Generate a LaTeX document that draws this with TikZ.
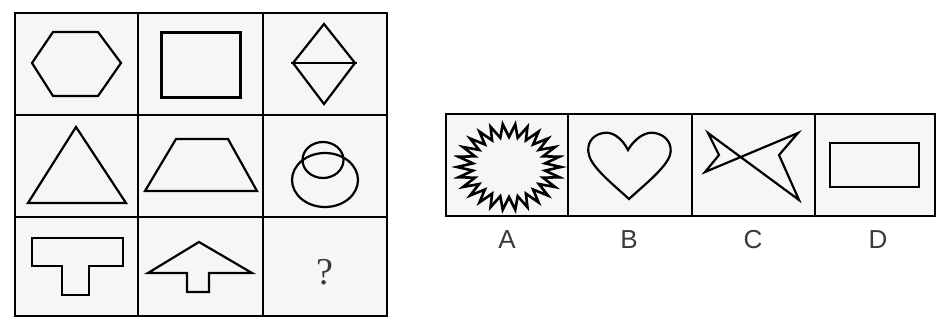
\documentclass[tikz,border=0pt]{standalone}
\usepackage{fontspec}
\newfontfamily\labfont{Liberation Sans}
\newfontfamily\qfont{Liberation Serif}
\definecolor{cellbg}{HTML}{F6F6F6}
\definecolor{labgray}{HTML}{3A3A3A}
\begin{document}
\begin{tikzpicture}[x=1pt,y=-1pt,
  gridline/.style={line width=2.8pt},
  shapeline/.style={line width=2.2pt, line join=miter},
  label/.style={font=\labfont\fontsize{26}{26}\selectfont, text=labgray, inner sep=0pt}]
\useasboundingbox (0,0) rectangle (941,324);
% left grid
\fill[cellbg] (15,13) rectangle (387,316);
\draw[gridline] (15,13) rectangle (387,316);
\draw[gridline] (138,13) -- (138,316) (263,13) -- (263,316);
\draw[gridline] (15,115) -- (387,115) (15,217) -- (387,217);
% row 1
\draw[shapeline] (32,63) -- (53,32) -- (98,32) -- (121,63) -- (98,96) -- (53,96) -- cycle;
\draw[line width=3pt] (161,32) rectangle (240,97);
\draw[shapeline] (324,24) -- (355,63) -- (324,104) -- (293,63) -- cycle;
\draw[shapeline] (291,63) -- (357,63);
% row 2
\draw[shapeline] (76,127) -- (126,203) -- (28,203) -- cycle;
\draw[shapeline] (176,139) -- (228,139) -- (257,191) -- (145,191) -- cycle;
\draw[shapeline] (323,160) ellipse [x radius=20.5, y radius=18];
\draw[shapeline] (325,180) ellipse [x radius=33, y radius=27];
% row 3
\draw[shapeline] (32,238) -- (123,238) -- (123,266) -- (89,266) -- (89,295) -- (62,295) -- (62,266) -- (32,266) -- cycle;
\draw[shapeline] (199,242) -- (252,273) -- (209,273) -- (209,292) -- (187,292) -- (187,273) -- (148,273) -- cycle;
\node[font=\qfont\fontsize{38}{38}\selectfont, text=labgray, inner sep=0pt] (q) at (325,272) {?};
% right options
\fill[cellbg] (446,114) rectangle (935,216);
\draw[line width=2.5pt] (446,114) rectangle (935,216);
\draw[line width=2.5pt] (568,114) -- (568,216) (692,114) -- (692,216) (815,114) -- (815,216);
% A starburst
\draw[line width=2.6pt, line join=miter, miter limit=6]
  (561,167) \foreach \i [evaluate=\i as \r using {ifthenelse(mod(\i,2)==0,1,0.7)}] in {1,...,51} {
    -- ({509+52*\r*cos(360/52*\i)},{167+43*\r*sin(360/52*\i)}) } -- cycle;
% B heart
\draw[shapeline] (628,150) .. controls (622,138) and (612,131) .. (603,133)
  .. controls (592,135) and (586,144) .. (589,155)
  .. controls (592,168) and (615,186) .. (629,199)
  .. controls (643,186) and (666,168) .. (670,155)
  .. controls (673,144) and (666,135) .. (655,133)
  .. controls (646,131) and (635,138) .. (628,150) -- cycle;
% C
\draw[shapeline] (708,133) -- (799,200) -- (779,155) -- (798,133) -- (705,172) -- (719,155) -- cycle;
% D
\draw[shapeline] (830,143) rectangle (919,187);
% labels
\node[label] (la) at (507,240) {A};
\node[label] (lb) at (629,240) {B};
\node[label] (lc) at (753,240) {C};
\node[label] (ld) at (878,240) {D};
\end{tikzpicture}
\end{document}
